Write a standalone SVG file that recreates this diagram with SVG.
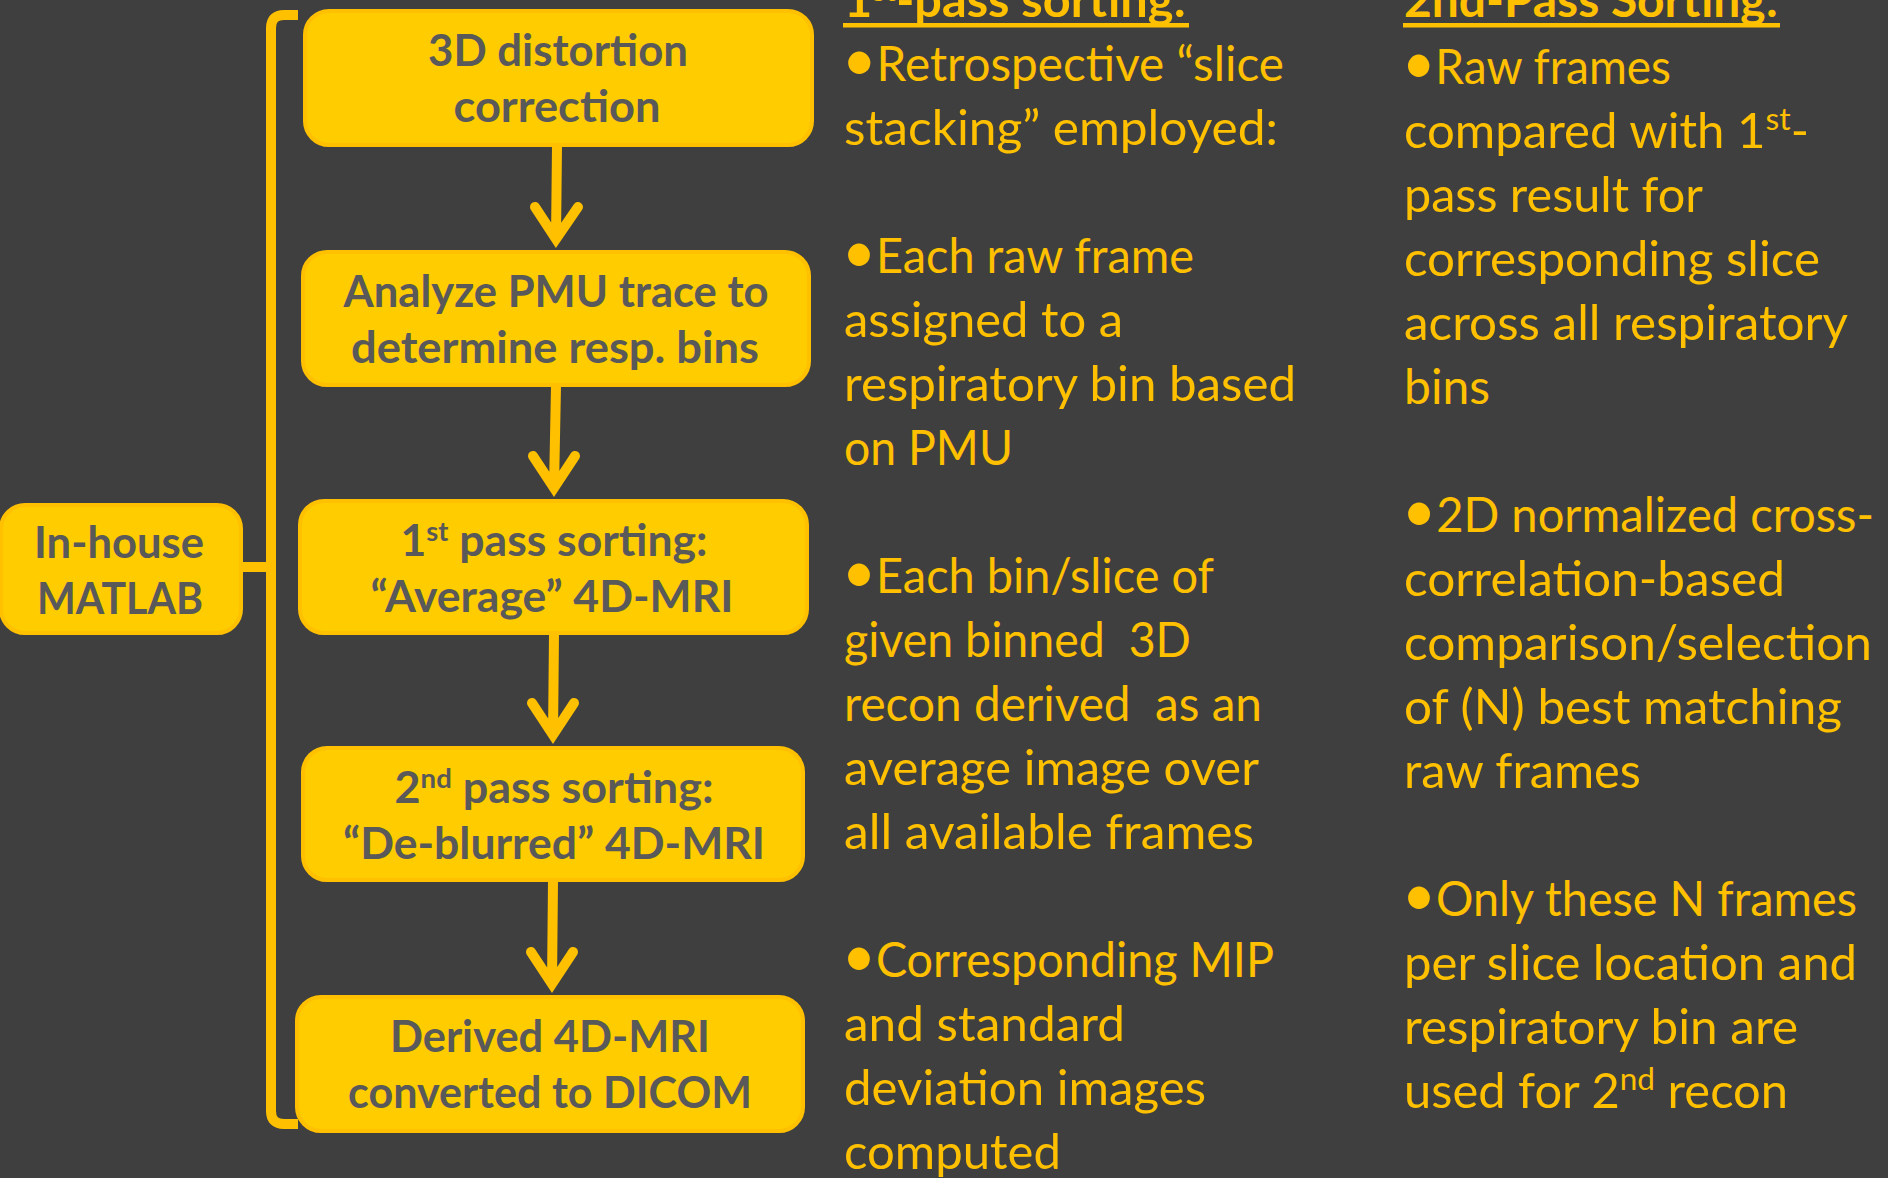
<svg xmlns="http://www.w3.org/2000/svg" width="1888" height="1178" viewBox="0 0 1888 1178">
  <style>
    .box rect { fill: #FFCC00; stroke: #FFC000; stroke-width: 4; }
    .box text { font-family: Lato, "Liberation Sans", sans-serif; font-weight: 700; font-size: 44px; fill: #595959; text-anchor: middle; }
    .note text { font-family: Lato, "Liberation Sans", sans-serif; font-size: 48px; fill: #FFC000; }
    .note .head { font-weight: 700; }
    .note .dot { font-size: 60px; }
    .uline { fill: #FFC000; }
    .wire { fill: none; stroke: #FFC000; stroke-width: 10; }
    .arrow { fill: none; stroke: #FFC000; stroke-width: 10; stroke-linecap: round; stroke-linejoin: miter; stroke-miterlimit: 10; }
  </style>

  <rect width="1888" height="1178" fill="#3F3F3F"/>

  <!-- connectors: bracket grouping the pipeline, link from the tool box, step arrows -->
  <g id="connectors">
    <path class="wire" d="M298,15 L284,15 Q271,15 271,28 L271,1111 Q271,1124 284,1124 L298,1124"/>
    <path class="wire" d="M240,567 L271,567"/>
    <path class="arrow" d="M557,145 L556,239 M535,207 L556,239 L578,207"/>
    <path class="arrow" d="M556,386 L554,488 M533,456 L554,488 L575,456"/>
    <path class="arrow" d="M554,634 L553,735 M532,703 L553,735 L574,703"/>
    <path class="arrow" d="M553,881 L552,984 M531,952 L552,984 L573,952"/>
  </g>

  <g id="matlab" class="box">
    <rect x="1" y="505" width="240" height="128" rx="24"/>
    <text x="119" y="558" textLength="170" lengthAdjust="spacingAndGlyphs">In-house</text>
    <text x="120" y="614" textLength="166" lengthAdjust="spacingAndGlyphs">MATLAB</text>
  </g>

  <g id="distortion" class="box">
    <rect x="305" y="11" width="507" height="134" rx="24"/>
    <text x="558" y="66" textLength="260" lengthAdjust="spacingAndGlyphs">3D distortion</text>
    <text x="557" y="122" textLength="207" lengthAdjust="spacingAndGlyphs">correction</text>
  </g>

  <g id="pmu" class="box">
    <rect x="303" y="252" width="506" height="133" rx="24"/>
    <text x="556" y="307" textLength="425" lengthAdjust="spacingAndGlyphs">Analyze PMU trace to</text>
    <text x="555" y="363" textLength="408" lengthAdjust="spacingAndGlyphs">determine resp. bins</text>
  </g>

  <g id="pass1" class="box">
    <rect x="300" y="501" width="507" height="132" rx="24"/>
    <text x="554" y="556" textLength="307" lengthAdjust="spacingAndGlyphs">1<tspan font-size="27" dy="-15">st</tspan><tspan dy="15"> pass sorting:</tspan></text>
    <text x="552" y="612" textLength="363" lengthAdjust="spacingAndGlyphs">“Average” 4D-MRI</text>
  </g>

  <g id="pass2" class="box">
    <rect x="303" y="748" width="500" height="132" rx="24"/>
    <text x="554" y="803" textLength="319" lengthAdjust="spacingAndGlyphs">2<tspan font-size="27" dy="-15">nd</tspan><tspan dy="15"> pass sorting:</tspan></text>
    <text x="554" y="859" textLength="422" lengthAdjust="spacingAndGlyphs">“De-blurred” 4D-MRI</text>
  </g>

  <g id="dicom" class="box">
    <rect x="297" y="997" width="506" height="134" rx="24"/>
    <text x="550" y="1052" textLength="320" lengthAdjust="spacingAndGlyphs">Derived 4D-MRI</text>
    <text x="550" y="1108" textLength="404" lengthAdjust="spacingAndGlyphs">converted to DICOM</text>
  </g>

  <!-- first-pass notes -->
  <g id="notes-pass1" class="note">
    <text class="head" x="844" y="17" textLength="342" lengthAdjust="spacingAndGlyphs">1<tspan font-size="29" dy="-16">st</tspan><tspan dy="16">-pass sorting:</tspan></text>
    <rect class="uline" x="843" y="23" width="346" height="4.5"/>
    <text x="842" y="81" textLength="442" lengthAdjust="spacingAndGlyphs"><tspan class="dot">•</tspan>Retrospective “slice</text>
    <text x="844" y="145" textLength="434" lengthAdjust="spacingAndGlyphs">stacking” employed:</text>
    <text x="842" y="273" textLength="352" lengthAdjust="spacingAndGlyphs"><tspan class="dot">•</tspan>Each raw frame</text>
    <text x="844" y="337" textLength="279" lengthAdjust="spacingAndGlyphs">assigned to a</text>
    <text x="844" y="401" textLength="452" lengthAdjust="spacingAndGlyphs">respiratory bin based</text>
    <text x="844" y="465" textLength="169" lengthAdjust="spacingAndGlyphs">on PMU</text>
    <text x="842" y="593" textLength="372" lengthAdjust="spacingAndGlyphs"><tspan class="dot">•</tspan>Each bin/slice of</text>
    <text x="844" y="657" textLength="347" lengthAdjust="spacingAndGlyphs" xml:space="preserve">given binned  3D</text>
    <text x="844" y="721" textLength="418" lengthAdjust="spacingAndGlyphs" xml:space="preserve">recon derived  as an</text>
    <text x="844" y="785" textLength="415" lengthAdjust="spacingAndGlyphs">average image over</text>
    <text x="844" y="849" textLength="410" lengthAdjust="spacingAndGlyphs">all available frames</text>
    <text x="842" y="977" textLength="432" lengthAdjust="spacingAndGlyphs"><tspan class="dot">•</tspan>Corresponding MIP</text>
    <text x="844" y="1041" textLength="281" lengthAdjust="spacingAndGlyphs">and standard</text>
    <text x="844" y="1105" textLength="362" lengthAdjust="spacingAndGlyphs">deviation images</text>
    <text x="844" y="1169" textLength="217" lengthAdjust="spacingAndGlyphs">computed</text>
  </g>

  <!-- second-pass notes -->
  <g id="notes-pass2" class="note">
    <text class="head" x="1404" y="17" textLength="374" lengthAdjust="spacingAndGlyphs">2nd-Pass Sorting:</text>
    <rect class="uline" x="1403" y="23" width="377" height="4.5"/>
    <text x="1402" y="84" textLength="269" lengthAdjust="spacingAndGlyphs"><tspan class="dot">•</tspan>Raw frames</text>
    <text x="1404" y="148" textLength="405" lengthAdjust="spacingAndGlyphs">compared with 1<tspan font-size="31" dy="-18">st</tspan><tspan dy="18">-</tspan></text>
    <text x="1404" y="212" textLength="299" lengthAdjust="spacingAndGlyphs">pass result for</text>
    <text x="1404" y="276" textLength="416" lengthAdjust="spacingAndGlyphs">corresponding slice</text>
    <text x="1404" y="340" textLength="444" lengthAdjust="spacingAndGlyphs">across all respiratory</text>
    <text x="1404" y="404" textLength="86" lengthAdjust="spacingAndGlyphs">bins</text>
    <text x="1402" y="532" textLength="472" lengthAdjust="spacingAndGlyphs"><tspan class="dot">•</tspan>2D normalized cross-</text>
    <text x="1404" y="596" textLength="381" lengthAdjust="spacingAndGlyphs">correlation-based</text>
    <text x="1404" y="660" textLength="468" lengthAdjust="spacingAndGlyphs">comparison/selection</text>
    <text x="1404" y="724" textLength="438" lengthAdjust="spacingAndGlyphs">of (N) best matching</text>
    <text x="1404" y="788" textLength="237" lengthAdjust="spacingAndGlyphs">raw frames</text>
    <text x="1402" y="916" textLength="455" lengthAdjust="spacingAndGlyphs"><tspan class="dot">•</tspan>Only these N frames</text>
    <text x="1404" y="980" textLength="453" lengthAdjust="spacingAndGlyphs">per slice location and</text>
    <text x="1404" y="1044" textLength="394" lengthAdjust="spacingAndGlyphs">respiratory bin are</text>
    <text x="1404" y="1108" textLength="384" lengthAdjust="spacingAndGlyphs">used for 2<tspan font-size="31" dy="-18">nd</tspan><tspan dy="18"> recon</tspan></text>
  </g>
</svg>
